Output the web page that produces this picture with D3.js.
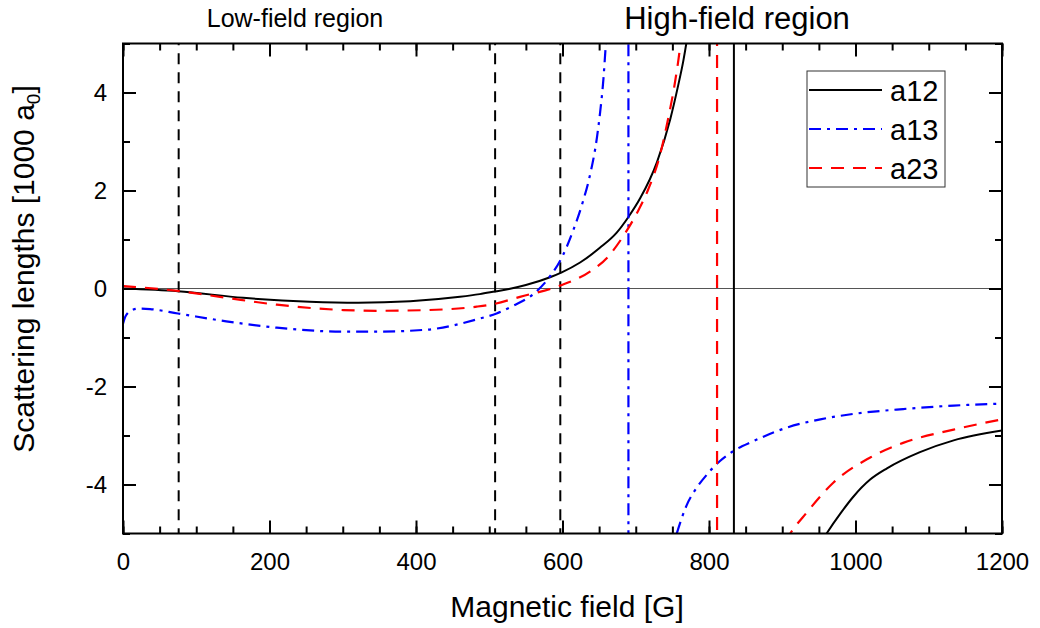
<!DOCTYPE html>
<html>
<head>
<meta charset="utf-8">
<script src="https://cdn.jsdelivr.net/npm/d3@7"></script>
<style>
  body { margin: 0; background: #fff; }
  text { font-family: "Liberation Sans", Arial, sans-serif; fill: #000; }
</style>
</head>
<body>
<svg id="chart" width="1040" height="628"></svg>
<script>
// Axis ticks: magnetic field in G, scattering length in units of 1000 a0
const xTicks = [0, 200, 400, 600, 800, 1000, 1200];
const xMinorTicks = d3.range(0, 1201, 50);
const yTicks = [-4, -2, 0, 2, 4];
const yMinorTicks = d3.range(-5, 6, 1);

const seriesNames = ["a12", "a13", "a23"];
const seriesColors = ["#000000", "#0000ff", "#ff0000"];
const poles = [834, 690, 811];            // resonance fields (G) for a12, a13, a23
const boundaryFields = [76, 508, 597];    // dashed guide lines
const regionLabels = ["Low-field region", "High-field region"];

// a12: below and above its resonance
const a12FieldLow = [0, 75, 164, 255, 321, 392, 460, 487, 508, 527, 550, 583, 599, 624, 651, 674, 690, 706, 729, 747, 758, 765, 769, 772];
const a12Low      = [0.0, -0.055, -0.19, -0.27, -0.29, -0.26, -0.17, -0.115, -0.06, -0.01, 0.07, 0.23, 0.33, 0.53, 0.83, 1.14, 1.46, 1.84, 2.58, 3.45, 4.15, 4.65, 5.0, 5.3];
const a12FieldHigh = [953, 961, 980, 997, 1020, 1043, 1088, 1134, 1200];
const a12High      = [-5.18, -4.99, -4.58, -4.25, -3.90, -3.67, -3.34, -3.10, -2.90];

// a13
const a13FieldLow = [0, 3, 7, 14, 21, 37, 75, 141, 210, 301, 346, 415, 483, 510, 533, 563, 583, 599, 615, 628, 637, 647, 651, 656, 659, 661];
const a13Low      = [-0.72, -0.58, -0.49, -0.43, -0.41, -0.42, -0.51, -0.67, -0.80, -0.88, -0.88, -0.84, -0.63, -0.51, -0.35, -0.08, 0.25, 0.63, 1.2, 1.78, 2.28, 3.08, 3.55, 4.3, 4.95, 5.35];
const a13FieldHigh = [752, 756, 769, 783, 797, 815, 833, 860, 906, 952, 997, 1065, 1134, 1200];
const a13High      = [-5.2, -5.0, -4.44, -4.07, -3.8, -3.52, -3.32, -3.12, -2.84, -2.67, -2.56, -2.46, -2.39, -2.35];

// a23
const a23FieldLow = [0, 75, 141, 210, 301, 346, 415, 483, 505, 542, 597, 638, 661, 683, 702, 717, 733, 744, 754, 761, 763];
const a23Low      = [0.05, -0.05, -0.19, -0.33, -0.44, -0.455, -0.44, -0.37, -0.32, -0.17, 0.06, 0.35, 0.63, 1.07, 1.55, 2.02, 2.72, 3.45, 4.25, 5.0, 5.3];
const a23FieldHigh = [903, 911, 933, 970, 1020, 1065, 1134, 1200];
const a23High      = [-5.2, -5.0, -4.58, -3.96, -3.45, -3.15, -2.88, -2.67];

const lowFields  = [a12FieldLow, a13FieldLow, a23FieldLow];
const lowValues  = [a12Low, a13Low, a23Low];
const highFields = [a12FieldHigh, a13FieldHigh, a23FieldHigh];
const highValues = [a12High, a13High, a23High];
const dashStyles = [null, "12,6,3,6", "13,9"];

// ---- layout ----
const plot = { left: 123, right: 1002, top: 43.5, bottom: 533.5 };
const svg = d3.select("#chart");

const x = d3.scaleLinear().domain([0, 1200]).range([plot.left, plot.right]);
const y = d3.scaleLinear().domain([-5, 5]).range([plot.bottom, plot.top]);

svg.append("defs").append("clipPath").attr("id", "plotClip")
  .append("rect")
  .attr("x", plot.left).attr("y", plot.top)
  .attr("width", plot.right - plot.left).attr("height", plot.bottom - plot.top);

const inner = svg.append("g").attr("clip-path", "url(#plotClip)");

// zero line
inner.append("line")
  .attr("x1", x(0)).attr("x2", x(1200))
  .attr("y1", y(0)).attr("y2", y(0))
  .attr("stroke", "#555").attr("stroke-width", 1.2);

// guide lines between field regions
inner.selectAll(".guide").data(boundaryFields).join("line")
  .attr("class", "guide")
  .attr("x1", d => x(d)).attr("x2", d => x(d))
  .attr("y1", y(5)).attr("y2", y(-5))
  .attr("stroke", "#000").attr("stroke-width", 2)
  .attr("stroke-dasharray", "11,8")
  .attr("stroke-dashoffset", 9.3);

// each series: branch below the resonance, jump through the pole, branch above
const line = d3.line().x(d => x(d[0])).y(d => y(d[1])).curve(d3.curveMonotoneX);
function seriesPath(i) {
  const left = line(lowFields[i].map((b, k) => [b, lowValues[i][k]]));
  const right = line(highFields[i].map((b, k) => [b, highValues[i][k]]));
  const px = x(poles[i]);
  return left + `L${px},${plot.top - 40}L${px},${plot.bottom + 40}` + "L" + right.slice(1);
}

seriesNames.forEach((name, i) => {
  inner.append("path")
    .attr("d", seriesPath(i))
    .attr("fill", "none")
    .attr("stroke", seriesColors[i])
    .attr("stroke-width", i === 0 ? 2 : 2.2)
    .attr("stroke-dasharray", dashStyles[i]);
});

// ---- axes (ticks pointing inward on all four sides) ----
const plainFormat = d => String(d);
function styleAxis(g) {
  g.select(".domain").remove();
  g.selectAll(".tick line").attr("stroke", "#000").attr("stroke-width", 2);
  g.selectAll("text").attr("font-size", 24).attr("font-family", "Liberation Sans, Arial, sans-serif");
}

svg.append("g").attr("transform", `translate(0,${plot.bottom})`)
  .call(d3.axisBottom(x).tickValues(xMinorTicks).tickSize(-7).tickFormat(""))
  .call(styleAxis);
svg.append("g").attr("transform", `translate(0,${plot.bottom})`)
  .call(d3.axisBottom(x).tickValues(xTicks).tickSize(-13).tickPadding(19.5).tickFormat(plainFormat))
  .call(styleAxis);

svg.append("g").attr("transform", `translate(0,${plot.top})`)
  .call(d3.axisTop(x).tickValues(xMinorTicks).tickSize(-7).tickFormat(""))
  .call(styleAxis);
svg.append("g").attr("transform", `translate(0,${plot.top})`)
  .call(d3.axisTop(x).tickValues(xTicks).tickSize(-13).tickFormat(""))
  .call(styleAxis);

svg.append("g").attr("transform", `translate(${plot.left},0)`)
  .call(d3.axisLeft(y).tickValues(yMinorTicks).tickSize(-7).tickFormat(""))
  .call(styleAxis);
svg.append("g").attr("transform", `translate(${plot.left},0)`)
  .call(d3.axisLeft(y).tickValues(yTicks).tickSize(-13).tickPadding(16).tickFormat(plainFormat))
  .call(styleAxis);

svg.append("g").attr("transform", `translate(${plot.right},0)`)
  .call(d3.axisRight(y).tickValues(yMinorTicks).tickSize(-7).tickFormat(""))
  .call(styleAxis);
svg.append("g").attr("transform", `translate(${plot.right},0)`)
  .call(d3.axisRight(y).tickValues(yTicks).tickSize(-13).tickFormat(""))
  .call(styleAxis);

// frame
svg.append("rect")
  .attr("x", plot.left).attr("y", plot.top)
  .attr("width", plot.right - plot.left).attr("height", plot.bottom - plot.top)
  .attr("fill", "none").attr("stroke", "#000").attr("stroke-width", 2);

// ---- titles ----
svg.append("text")
  .attr("x", 567).attr("y", 617)
  .attr("text-anchor", "middle").attr("font-size", 30)
  .text("Magnetic field [G]");

const yTitle = svg.append("text")
  .attr("transform", "translate(34,269) rotate(-90)")
  .attr("text-anchor", "middle").attr("font-size", 30);
yTitle.append("tspan").text("Scattering lengths [1000 a");
yTitle.append("tspan").attr("font-size", 19).attr("dy", 6).text("0");
yTitle.append("tspan").attr("dy", -6).text("]");

svg.append("text")
  .attr("x", 295).attr("y", 27)
  .attr("text-anchor", "middle").attr("font-size", 25)
  .text(regionLabels[0]);
svg.append("text")
  .attr("x", 737).attr("y", 29)
  .attr("text-anchor", "middle").attr("font-size", 31)
  .text(regionLabels[1]);

// ---- legend ----
const legend = svg.append("g").attr("transform", "translate(807,71)");
legend.append("rect")
  .attr("width", 138).attr("height", 116)
  .attr("fill", "#fff").attr("stroke", "#333").attr("stroke-width", 1);
seriesNames.forEach((name, i) => {
  const row = legend.append("g").attr("transform", `translate(0,${19 + i * 39})`);
  row.append("line")
    .attr("x1", 2).attr("x2", 75).attr("y1", 0).attr("y2", 0)
    .attr("stroke", seriesColors[i]).attr("stroke-width", i === 0 ? 2 : 2.2)
    .attr("stroke-dasharray", dashStyles[i]);
  row.append("text")
    .attr("x", 83).attr("y", 11)
    .attr("font-size", 29)
    .text(name);
});
</script>
</body>
</html>
